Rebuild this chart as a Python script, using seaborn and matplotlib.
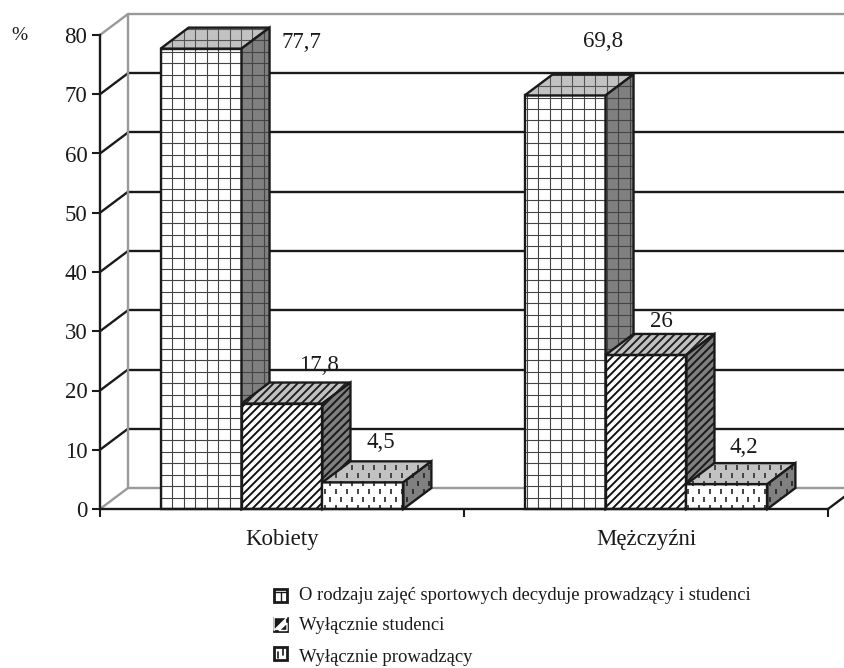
import numpy as np
import pandas as pd
import seaborn as sns
import matplotlib.pyplot as plt
from matplotlib.collections import LineCollection
from matplotlib.patches import Polygon, Rectangle
from matplotlib.transforms import Affine2D, IdentityTransform

categories = ['Kobiety', 'Mężczyźni']
answers = ['O rodzaju zajęć sportowych decyduje prowadzący i studenci',
           'Wyłącznie studenci',
           'Wyłącznie prowadzący']
both_values = [77.7, 69.8]
students_values = [17.8, 26]
teacher_values = [4.5, 4.2]
y_ticks = [0, 10, 20, 30, 40, 50, 60, 70, 80]

DX, DY = 28, 21  # depth of the fake 3d, in pixels
H = 668
W = 845

sns.set_style('ticks')
plt.rcParams['font.family'] = ['Liberation Serif', 'DejaVu Serif']

df = pd.DataFrame({
    'plec': categories * 3,
    'odp': [answers[0]] * 2 + [answers[1]] * 2 + [answers[2]] * 2,
    'val': both_values + students_values + teacher_values,
})

fig = plt.figure(figsize=(W / 100, H / 100), dpi=100)
ax = fig.add_axes([100 / W, (H - 509) / H, 728 / W, 474 / H])
sns.barplot(data=df, x='plec', y='val', hue='odp', hue_order=answers, ax=ax,
            palette=['white'] * 3, saturation=1, width=0.667, gap=0,
            edgecolor='black', linewidth=1.7, legend=False, errorbar=None)
ax.set_xlim(-0.5, 1.5)
ax.set_ylim(0, 80)
ax.set_xlabel('')
ax.set_ylabel('')
ax.set_yticks(y_ticks)
ax.set_xticks([0, 1])
ax.set_xticks([-0.5, 0.5, 1.5], minor=True)
ax.set_xticklabels(categories)
ax.tick_params(axis='x', which='major', length=0, labelsize=16.5, pad=14.5, colors='#1a1a1a')
ax.tick_params(axis='x', which='minor', length=6, width=1.5, color='#1a1a1a')
ax.tick_params(axis='y', length=6, width=1.5, labelsize=16.5, pad=3, color='#1a1a1a', labelcolor='#1a1a1a')
sns.despine(ax=ax)
for s in ['left', 'bottom']:
    ax.spines[s].set_linewidth(1.7)
    ax.spines[s].set_color('#1a1a1a')
    ax.spines[s].set_zorder(20)

# back wall
depth = ax.transData + Affine2D().translate(DX, DY)
GRAY = '#999999'
for t in y_ticks:
    c = GRAY if t in (0, 80) else '#1a1a1a'
    ax.plot([-0.5, 1.6], [t, t], transform=depth, color=c, lw=1.7, clip_on=False, zorder=1)
    p0 = ax.transData.transform((-0.5, t))
    ax.plot([p0[0], p0[0] + DX], [p0[1], p0[1] + DY], transform=IdentityTransform(),
            color=c, lw=1.7, clip_on=False, zorder=1)
ax.plot([-0.5, -0.5], [0, 80], transform=depth, color=GRAY, lw=1.7, clip_on=False, zorder=1)
p0 = ax.transData.transform((1.5, 0))
ax.plot([p0[0], p0[0] + DX], [p0[1], p0[1] + DY], transform=IdentityTransform(),
        color='#1a1a1a', lw=1.7, clip_on=False, zorder=1)


def pattern_lines(kind):
    # the fill patterns are in screen space, same on all faces
    segs = []
    if kind == 0:
        for x in np.arange(161, W, 80 / 7):
            segs.append([(x, 0), (x, H)])
        for y in np.arange(159, H, 80 / 7):
            segs.append([(0, y), (W, y)])
    elif kind == 1:
        for c in np.arange(-W, H, 8):
            segs.append([(0, c), (W, W + c)])
    else:
        for i, y in enumerate(np.arange(150, H, 8)):
            for x in np.arange(5.5 * (i % 2), W, 11):
                segs.append([(x, y), (x, y + 5)])
    return segs


def fill_face(pts, face, kind, line_c, z):
    poly = Polygon(pts, closed=True, transform=IdentityTransform(), facecolor=face,
                   edgecolor='none', clip_on=False, zorder=z)
    ax.add_patch(poly)
    widths = {0: 0.8, 1: 1.4, 2: 1.1}
    lc = LineCollection(pattern_lines(kind), colors=line_c, linewidths=widths[kind],
                        transform=IdentityTransform(), zorder=z)
    ax.add_collection(lc, autolim=False)
    lc.set_clip_box(fig.bbox)
    lc.set_clip_path(poly)
    edge = Polygon(pts, closed=True, transform=IdentityTransform(), fill=False,
                   edgecolor='#1a1a1a', lw=1.7, clip_on=False, zorder=z, joinstyle='miter')
    ax.add_patch(edge)


bars = [p for p in ax.patches if isinstance(p, Rectangle)]
bars = sorted(bars, key=lambda p: p.get_x())
kinds = [0, 1, 2, 0, 1, 2]
label_vals = [both_values[0], students_values[0], teacher_values[0],
              both_values[1], students_values[1], teacher_values[1]]
label_txt = ['77,7', '17,8', '4,5', '69,8', '26', '4,2']
# offsets of the value labels from the bar's top left corner, in pixels
label_off = [(141, 6), (77, 38), (58, 40), (78, 54), (56, 33), (57, 37)]

for i, b in enumerate(bars):
    z = 3 + i
    e = b.get_window_extent()
    x0, x1, y0, y1 = e.x0, e.x1, e.y0, e.y1
    k = kinds[i]
    # front
    fill_face([(x0, y0), (x1, y0), (x1, y1), (x0, y1)], 'white', k, '#444444' if k == 0 else '#111111', z)
    # top
    fill_face([(x0, y1), (x1, y1), (x1 + DX, y1 + DY), (x0 + DX, y1 + DY)], '#c2c2c2', k,
              '#555555' if k == 0 else '#222222', z)
    # side
    fill_face([(x1, y0), (x1 + DX, y0 + DY), (x1 + DX, y1 + DY), (x1, y1)], '#808080', k,
              '#444444' if k == 0 else '#1a1a1a', z)
    b.set_visible(False)
    ax.annotate(label_txt[i], (b.get_x(), label_vals[i]), xycoords='data',
                xytext=label_off[i], textcoords='offset pixels', ha='center', va='center',
                fontsize=16.5, color='#1a1a1a', annotation_clip=False, zorder=30)

fig.text(19 / W, 1 - 36 / H, '%', fontsize=14, ha='center', va='center', color='#1a1a1a')

# legend, drawn by hand because the spacing is uneven
leg_y = [595, 624, 653]
txt_y = [595.5, 625.5, 658]
for i, lab in enumerate(answers):
    fig.text(299 / W, 1 - txt_y[i] / H, lab, fontsize=13.4, ha='left', va='center', color='#1a1a1a')
    yc = H - leg_y[i]
    r = Rectangle((274, yc - 6.5), 13, 13, transform=IdentityTransform(), facecolor='white',
                  edgecolor='#1a1a1a', lw=2, clip_on=False, zorder=25)
    ax.add_patch(r)
    if i == 0:
        ax.plot([280.5, 280.5], [yc - 6, yc + 3], transform=IdentityTransform(), color='#1a1a1a', lw=1, clip_on=False, zorder=26)
        ax.plot([274, 287], [yc + 3, yc + 3], transform=IdentityTransform(), color='#1a1a1a', lw=1, clip_on=False, zorder=26)
    elif i == 1:
        tri = Polygon([(274, yc + 6.5), (287, yc + 6.5), (274, yc - 6.5)], transform=IdentityTransform(),
                      facecolor='#1a1a1a', clip_on=False, zorder=26)
        ax.add_patch(tri)
        tri2 = Polygon([(287, yc - 6.5), (287, yc + 1), (279, yc - 6.5)], transform=IdentityTransform(),
                       facecolor='#1a1a1a', clip_on=False, zorder=26)
        ax.add_patch(tri2)
    else:
        ax.plot([278, 278], [yc - 5, yc + 1], transform=IdentityTransform(), color='#1a1a1a', lw=1.2, clip_on=False, zorder=26)
        ax.plot([283, 283], [yc - 2, yc + 5], transform=IdentityTransform(), color='#1a1a1a', lw=1.2, clip_on=False, zorder=26)

fig.savefig('out.png', dpi=100)
